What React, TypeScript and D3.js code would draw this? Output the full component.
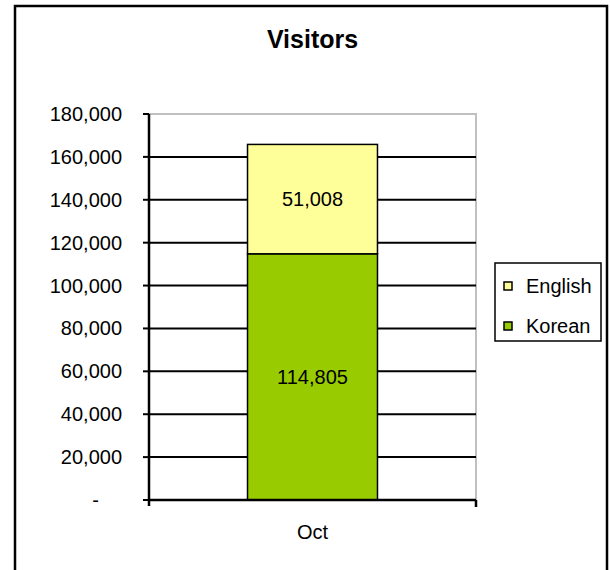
import React, { useEffect, useRef } from "react";
import * as d3 from "d3";

const categories = ["Oct"];
const seriesNames = ["Korean", "English"];
const korean = [114805];
const english = [51008];
const colors = ["#99CC00", "#FFFF99"];

export default function App() {
  const svgRef = useRef<SVGSVGElement>(null);

  useEffect(() => {
    const svg = d3.select(svgRef.current);
    svg.selectAll("*").remove();

    const font = "'Liberation Sans', Arial, sans-serif";
    const left = 149;
    const right = 476;
    const top = 114;
    const bottom = 500;

    // outer frame
    svg
      .append("rect")
      .attr("x", 15)
      .attr("y", 6)
      .attr("width", 592)
      .attr("height", 580)
      .attr("fill", "#fff")
      .attr("stroke", "#000")
      .attr("stroke-width", 2.5);

    // title
    svg
      .append("text")
      .attr("x", 312.5)
      .attr("y", 48)
      .attr("text-anchor", "middle")
      .style("font-family", font)
      .style("font-size", "25px")
      .style("font-weight", "bold")
      .text("Visitors");

    const x = d3
      .scaleBand<string>()
      .domain(categories)
      .range([left, right])
      .paddingInner(0)
      .paddingOuter(0.758);

    const y = d3.scaleLinear().domain([0, 180000]).range([bottom, top]);
    const ticks = y.ticks(9);
    const fmt = d3.format(",");

    // plot area border (top + right, grey)
    svg
      .append("path")
      .attr("d", `M${left},${top}H${right}V${bottom}`)
      .attr("fill", "none")
      .attr("stroke", "#c0c0c0")
      .attr("stroke-width", 2);

    // gridlines
    svg
      .append("g")
      .selectAll("line")
      .data(ticks.filter((t) => t > 0 && t < 180000))
      .join("line")
      .attr("x1", left)
      .attr("x2", right)
      .attr("y1", (d) => y(d))
      .attr("y2", (d) => y(d))
      .attr("stroke", "#000")
      .attr("stroke-width", 2);

    // stacked bars
    const rows = categories.map((c, i) => ({ cat: c, Korean: korean[i], English: english[i] }));
    const stack = d3.stack<any>().keys(seriesNames)(rows);

    const layer = svg
      .append("g")
      .selectAll("g")
      .data(stack)
      .join("g")
      .attr("fill", (_, i) => colors[i]);

    layer
      .selectAll("rect")
      .data((d) => d)
      .join("rect")
      .attr("x", (d) => x(d.data.cat)!)
      .attr("width", x.bandwidth())
      .attr("y", (d) => y(d[1]))
      .attr("height", (d) => y(d[0]) - y(d[1]))
      .attr("stroke", "#000")
      .attr("stroke-width", 1.5);

    layer
      .selectAll("text")
      .data((d) => d)
      .join("text")
      .attr("x", (d) => x(d.data.cat)! + x.bandwidth() / 2)
      .attr("y", (d) => (y(d[0]) + y(d[1])) / 2 + 7)
      .attr("text-anchor", "middle")
      .attr("fill", "#000")
      .style("font-family", font)
      .style("font-size", "20px")
      .text((d) => fmt(d[1] - d[0]));

    // y axis
    svg
      .append("line")
      .attr("x1", left)
      .attr("x2", left)
      .attr("y1", top)
      .attr("y2", bottom + 6)
      .attr("stroke", "#000")
      .attr("stroke-width", 2.5);

    const yt = svg.append("g").selectAll("g").data(ticks).join("g");
    yt.append("line")
      .attr("x1", left - 6)
      .attr("x2", left)
      .attr("y1", (d) => y(d))
      .attr("y2", (d) => y(d))
      .attr("stroke", "#000")
      .attr("stroke-width", 2);
    yt.append("text")
      .attr("x", (d) => (d === 0 ? 99 : 122))
      .attr("y", (d) => y(d) + 7)
      .attr("text-anchor", "end")
      .style("font-family", font)
      .style("font-size", "20px")
      .text((d) => (d === 0 ? "-" : fmt(d)));

    // x axis
    svg
      .append("line")
      .attr("x1", left)
      .attr("x2", right)
      .attr("y1", bottom)
      .attr("y2", bottom)
      .attr("stroke", "#000")
      .attr("stroke-width", 2.5);
    svg
      .append("line")
      .attr("x1", right)
      .attr("x2", right)
      .attr("y1", bottom)
      .attr("y2", bottom + 7)
      .attr("stroke", "#000")
      .attr("stroke-width", 2.5);

    svg
      .append("g")
      .selectAll("text")
      .data(categories)
      .join("text")
      .attr("x", (d) => x(d)! + x.bandwidth() / 2)
      .attr("y", 539)
      .attr("text-anchor", "middle")
      .style("font-family", font)
      .style("font-size", "20px")
      .text((d) => d);

    // legend
    const lg = svg.append("g");
    lg.append("rect")
      .attr("x", 495)
      .attr("y", 263)
      .attr("width", 106)
      .attr("height", 78)
      .attr("fill", "#fff")
      .attr("stroke", "#000")
      .attr("stroke-width", 1.5);

    const legendItems = [
      { name: "English", color: colors[1] },
      { name: "Korean", color: colors[0] },
    ];
    const li = lg
      .selectAll("g")
      .data(legendItems)
      .join("g")
      .attr("transform", (_, i) => `translate(504,${285 + i * 40})`);
    li.append("rect")
      .attr("x", 0)
      .attr("y", -3)
      .attr("width", 8)
      .attr("height", 8)
      .attr("fill", (d) => d.color)
      .attr("stroke", "#000")
      .attr("stroke-width", 1.5);
    li.append("text")
      .attr("x", 22)
      .attr("y", 8)
      .style("font-family", font)
      .style("font-size", "20px")
      .text((d) => d.name);
  }, []);

  return (
    <svg
      ref={svgRef}
      width={610}
      height={570}
      style={{ position: "absolute", left: 0, top: 0, background: "#fff" }}
    />
  );
}
